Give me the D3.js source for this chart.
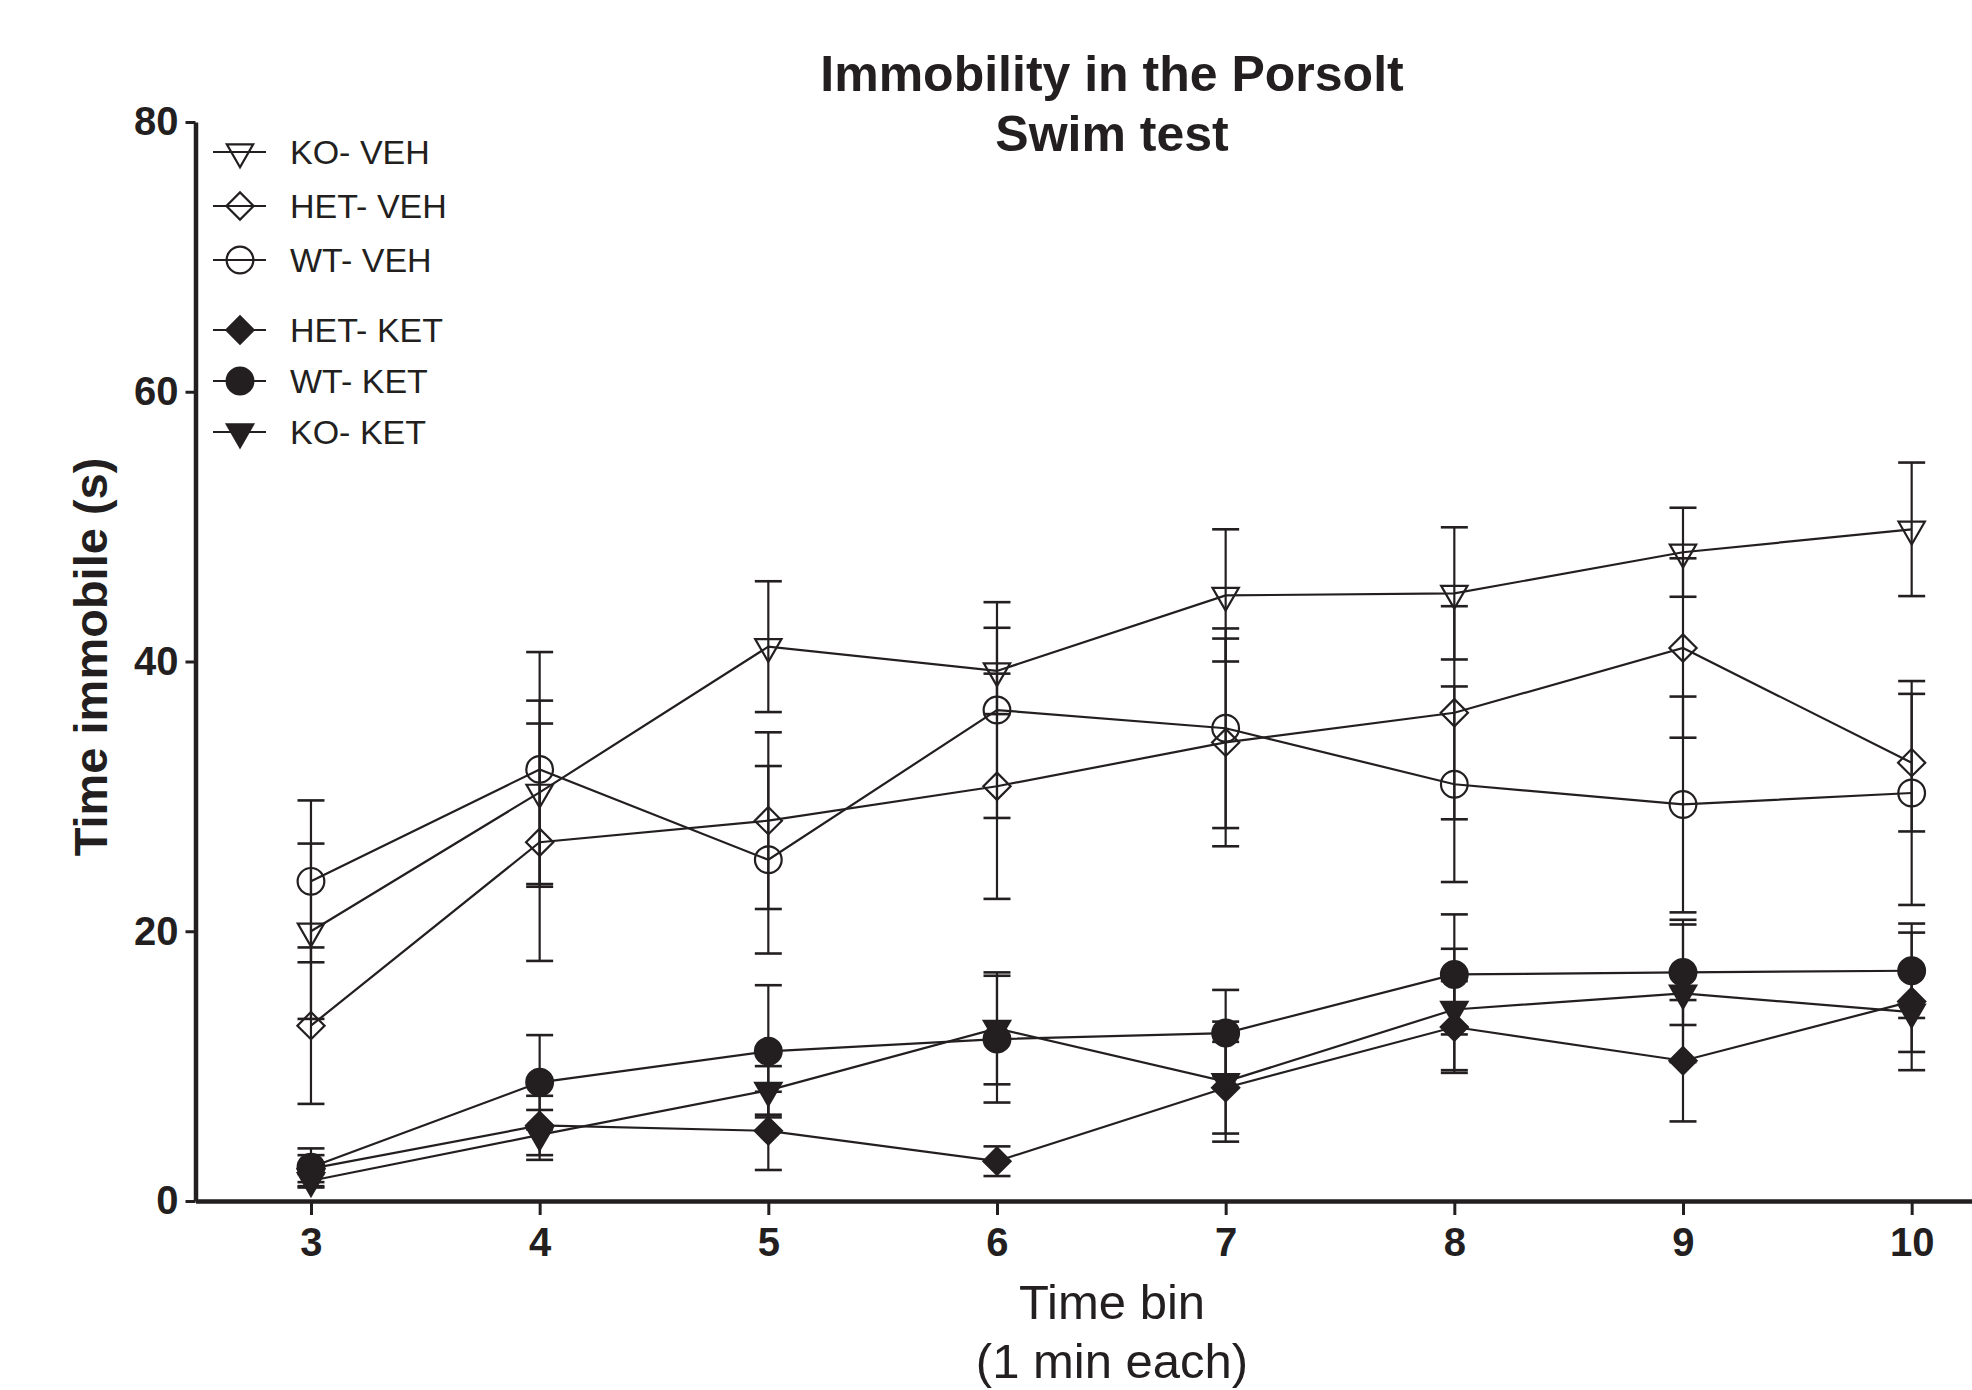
<!DOCTYPE html>
<html>
<head>
<meta charset="utf-8">
<script src="https://cdn.jsdelivr.net/npm/d3@7"></script>
<style>
  body { margin: 0; background: #fff; }
  svg { display: block; font-family: "Liberation Sans", Arial, Helvetica, sans-serif; }
</style>
</head>
<body>
<svg width="1972" height="1390"></svg>
<script>
// time bins (1 min each)
var bins = [3, 4, 5, 6, 7, 8, 9, 10];

// group means (s) and SEM
var koVeh = [20.0, 30.3, 41.1, 39.3, 44.9, 45.05, 48.1, 49.8];
var koVehSem = [6.5, 6.8, 4.85, 3.2, 4.9, 4.9, 3.3, 4.95];

var hetVeh = [13.0, 26.6, 28.2, 30.75, 34.0, 36.2, 41.0, 32.5];
var hetVehSem = [5.8, 8.8, 6.55, 8.35, 7.7, 7.9, 6.65, 5.1];

var wtVeh = [23.7, 32.0, 25.3, 36.4, 35.05, 30.9, 29.4, 30.25];
var wtVehSem = [6.0, 8.7, 6.95, 8.0, 7.4, 7.25, 8.0, 8.3];

var hetKet = [2.4, 5.6, 5.2, 2.95, 8.4, 12.9, 10.4, 14.8];
var hetKetSem = [1.0, 2.2, 2.9, 1.1, 3.4, 3.4, 4.5, 5.1];

var wtKet = [2.5, 8.8, 11.1, 12.0, 12.45, 16.8, 16.95, 17.07];
var wtKetSem = [1.4, 3.5, 4.9, 4.7, 3.2, 4.45, 3.9, 3.5];

var koKet = [1.5, 4.9, 8.2, 12.8, 8.85, 14.2, 15.4, 14.0];
var koKetSem = [0.5, 1.85, 1.8, 4.15, 4.45, 4.5, 5.1, 2.95];

var yTicks = [0, 20, 40, 60, 80];

var seriesNames = ["KO- VEH", "HET- VEH", "WT- VEH", "HET- KET", "WT- KET", "KO- KET"];
var seriesMeans = [koVeh, hetVeh, wtVeh, hetKet, wtKet, koKet];
var seriesSems = [koVehSem, hetVehSem, wtVehSem, hetKetSem, wtKetSem, koKetSem];
var seriesShapes = ["tri", "diamond", "circle", "diamond", "circle", "tri"];
var seriesFilled = [false, false, false, true, true, true];

var ink = "#231f20";

var svg = d3.select("svg");

var x = d3.scaleLinear().domain([2.495, 10.5]).range([195.5, 2026]);
var y = d3.scaleLinear().domain([0, 80]).range([1201, 122]);

// marker shapes
function markerPath(shape) {
  if (shape == "tri") {
    return d3.symbol().type(d3.symbolTriangle).size(300)();
  } else if (shape == "diamond") {
    return d3.symbol().type(d3.symbolSquare).size(370)();
  }
  return d3.symbol().type(d3.symbolCircle).size(560)();
}
function markerRotate(shape) {
  if (shape == "tri") return " rotate(180)";
  if (shape == "diamond") return " rotate(45)";
  return "";
}

var series = seriesNames.map(function (name, i) {
  return {
    name: name,
    shape: seriesShapes[i],
    filled: seriesFilled[i],
    points: bins.map(function (b, j) {
      return { x: b, y: seriesMeans[i][j], sem: seriesSems[i][j] };
    }),
  };
});

// axes
var yAxis = d3.axisLeft(y).tickValues(yTicks).tickSize(10).tickSizeOuter(0).tickPadding(7);
var xAxis = d3.axisBottom(x).tickValues(bins).tickSize(14).tickSizeOuter(0).tickPadding(13);

var gx = svg.append("g").attr("transform", "translate(0,1201)").call(xAxis);
var gy = svg.append("g").attr("transform", "translate(195.5,0)").call(yAxis);

[gx, gy].forEach(function (g) {
  g.select(".domain").attr("stroke", ink).attr("stroke-width", 4.5);
  g.selectAll(".tick line").attr("stroke", ink).attr("stroke-width", 3);
  g.selectAll(".tick text")
    .attr("fill", ink)
    .attr("font-size", 40)
    .attr("font-weight", "bold")
    .attr("font-family", "'Liberation Sans', Arial, sans-serif");
});

// error bars
var capHalf = 13.5;
series.forEach(function (s) {
  var g = svg.append("g").attr("stroke", ink).attr("stroke-width", 2.2).attr("fill", "none");
  s.points.forEach(function (p) {
    var cx = x(p.x), top = y(p.y + p.sem), bot = y(p.y - p.sem);
    g.append("line").attr("x1", cx).attr("x2", cx).attr("y1", top).attr("y2", bot);
    g.append("line").attr("x1", cx - capHalf).attr("x2", cx + capHalf).attr("y1", top).attr("y2", top).attr("stroke-width", 2.6);
    g.append("line").attr("x1", cx - capHalf).attr("x2", cx + capHalf).attr("y1", bot).attr("y2", bot).attr("stroke-width", 2.6);
  });
});

// lines
var line = d3
  .line()
  .x(function (d) {
    return x(d.x);
  })
  .y(function (d) {
    return y(d.y);
  });

series.forEach(function (s) {
  svg
    .append("path")
    .datum(s.points)
    .attr("fill", "none")
    .attr("stroke", ink)
    .attr("stroke-width", 2.2)
    .attr("d", line);
});

// markers
series.forEach(function (s) {
  svg
    .append("g")
    .selectAll("path")
    .data(s.points)
    .enter()
    .append("path")
    .attr("d", markerPath(s.shape))
    .attr("transform", function (d) {
      return "translate(" + x(d.x) + "," + y(d.y) + ")" + markerRotate(s.shape);
    })
    .attr("fill", s.filled ? ink : "none")
    .attr("stroke", ink)
    .attr("stroke-width", 2.2);
});

// legend
var legend = svg.append("g");
series.forEach(function (s, i) {
  var ly = i < 3 ? 152 + i * 54 : 330 + (i - 3) * 51;
  var row = legend.append("g").attr("transform", "translate(0," + ly + ")");
  row.append("line").attr("x1", 213).attr("x2", 266).attr("y1", 0).attr("y2", 0).attr("stroke", ink).attr("stroke-width", 2.2);
  row
    .append("path")
    .attr("d", markerPath(s.shape))
    .attr("transform", "translate(240,0)" + markerRotate(s.shape))
    .attr("fill", s.filled ? ink : "none")
    .attr("stroke", ink)
    .attr("stroke-width", 2.2);
  row
    .append("text")
    .attr("x", 290)
    .attr("y", 12)
    .attr("font-size", 34)
    .attr("fill", ink)
    .text(s.name);
});

// titles
svg.append("text")
  .attr("x", 1112)
  .attr("y", 91)
  .attr("text-anchor", "middle")
  .attr("font-size", 50)
  .attr("font-weight", "bold")
  .attr("fill", ink)
  .text("Immobility in the Porsolt");
svg.append("text")
  .attr("x", 1112)
  .attr("y", 151)
  .attr("text-anchor", "middle")
  .attr("font-size", 50)
  .attr("font-weight", "bold")
  .attr("fill", ink)
  .text("Swim test");

svg.append("text")
  .attr("transform", "translate(107,657) rotate(-90)")
  .attr("text-anchor", "middle")
  .attr("font-size", 47)
  .attr("font-weight", "bold")
  .attr("fill", ink)
  .text("Time immobile (s)");

svg.append("text")
  .attr("x", 1112)
  .attr("y", 1319)
  .attr("text-anchor", "middle")
  .attr("font-size", 49)
  .attr("fill", ink)
  .text("Time bin");
svg.append("text")
  .attr("x", 1112)
  .attr("y", 1378)
  .attr("text-anchor", "middle")
  .attr("font-size", 49)
  .attr("fill", ink)
  .text("(1 min each)");
</script>
</body>
</html>
